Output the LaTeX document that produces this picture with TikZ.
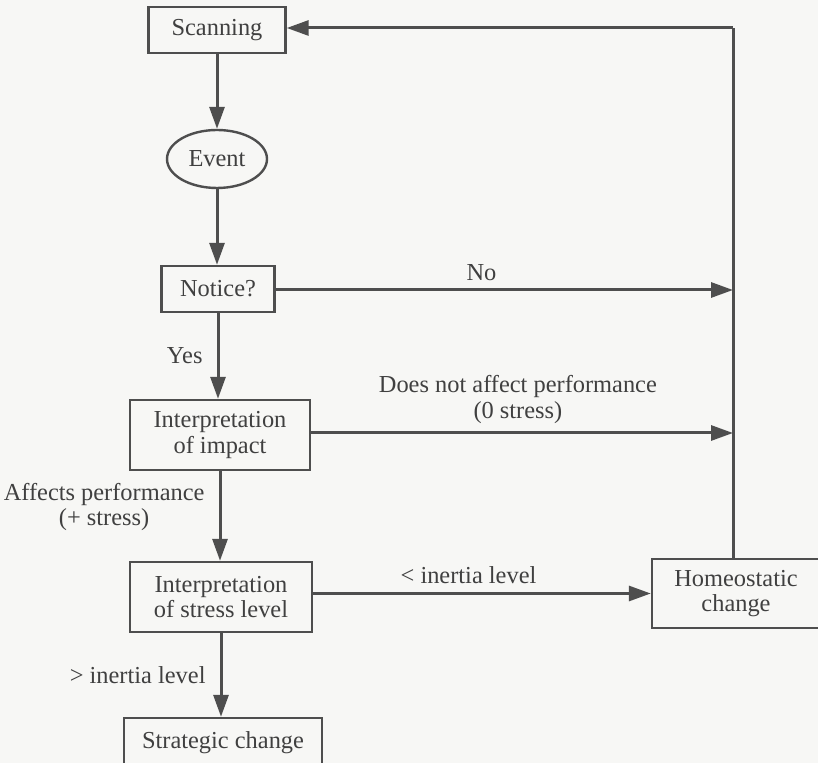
\documentclass[tikz,border=0pt]{standalone}
\usepackage{fontspec}
\setmainfont{Liberation Serif}
\usetikzlibrary{arrows.meta,shapes.geometric}
\definecolor{ink}{HTML}{4E4E4E}
\definecolor{txt}{HTML}{404040}
\definecolor{paper}{HTML}{F7F7F5}
\begin{document}
\begin{tikzpicture}[x=0.5pt,y=-0.5pt,
  font=\fontsize{12.2}{12.8}\selectfont, text=txt,
  box/.style={draw=ink, line width=1.2pt, rectangle, align=center, inner sep=0pt},
  oval/.style={draw=ink, line width=1.2pt, ellipse, inner sep=0pt},
  arr/.style={draw=ink, line width=1.5pt, -{Triangle[length=11pt,width=7.5pt]}},
  plain/.style={draw=ink, line width=1.5pt},
  lbl/.style={inner sep=1pt, align=center, text=txt}]
\fill[paper] (0,0) rectangle (818,763);
\useasboundingbox (0,0) rectangle (818,763);
\clip (0,0) rectangle (818,763);

\node[box, minimum width=68.5pt, minimum height=23pt] (scan) at (217,30) {Scanning};
\node[oval, minimum width=50pt, minimum height=29pt] (event) at (217,159) {Event};
\node[box, minimum width=56.5pt, minimum height=23pt] (notice) at (218,289) {Notice?};
\node[box, minimum width=90pt, minimum height=35pt] (impact) at (220,435) {Interpretation\\of impact};
\node[box, minimum width=91pt, minimum height=35pt] (stress) at (221,597) {Interpretation\\of stress level};
\node[box, minimum width=99pt, minimum height=25pt] (strat) at (223,743) {Strategic change};
\node[box, minimum width=84pt, minimum height=34.5pt] (homeo) at (736,593.5) {Homeostatic\\change};

\coordinate (corner) at (733,28);
\coordinate (noend) at (733,290);
\coordinate (zeroend) at (733,433);
\coordinate (hometop) at (733,559);

\draw[arr] (scan.south) -- (scan.south |- event.north);
\draw[arr] (event.south) -- (event.south |- notice.north);
\draw[arr] (notice.south) -- (notice.south |- impact.north)
  node[lbl, midway, left=6pt] {Yes};
\draw[arr] (impact.south) -- (impact.south |- stress.north)
  node[lbl, pos=0.4, left=6pt] {Affects performance\\(+ stress)};
\draw[arr] (stress.south) -- (stress.south |- strat.north)
  node[lbl, midway, left=6pt] {> inertia level};

\draw[arr] (notice.east |- noend) -- (noend)
  node[lbl, pos=0.45, above=3pt] {No};
\draw[arr] (impact.east |- zeroend) -- (zeroend)
  node[lbl, pos=0.49, above=3pt] {Does not affect performance\\(0 stress)};
\draw[arr] (stress.east |- homeo.west) -- (homeo.west)
  node[lbl, pos=0.46, above=3pt] {< inertia level};

\draw[plain] (hometop) -- (corner);
\draw[arr] (corner) -- (scan.east |- corner);
\end{tikzpicture}
\end{document}
